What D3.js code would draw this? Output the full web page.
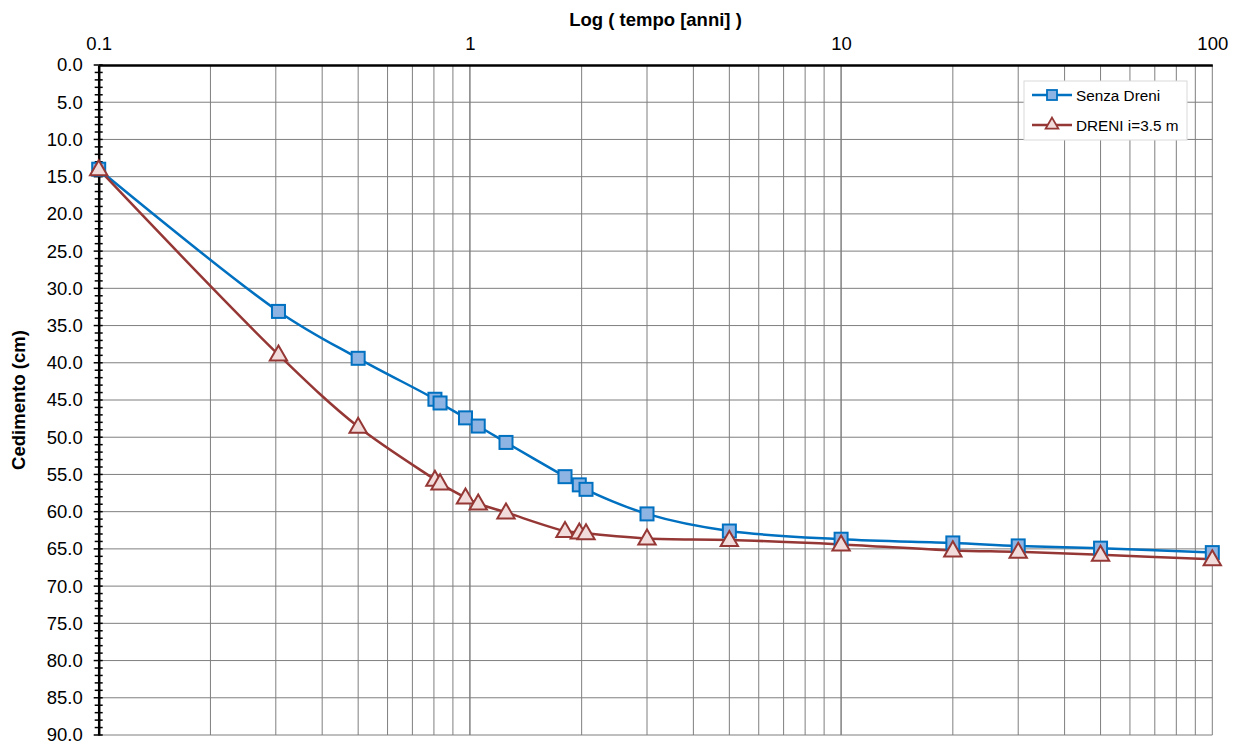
<!DOCTYPE html>
<html><head><meta charset="utf-8">
<script src="https://cdn.jsdelivr.net/npm/d3@7"></script>
<style>body{margin:0;background:#fff;} text{font-family:"Liberation Sans",Arial,sans-serif;}</style>
</head><body>
<svg id="chart" width="1238" height="745"></svg>
<script>
const tempo = [0.1, 0.305, 0.5, 0.805, 0.831, 0.973, 1.053, 1.251, 1.804, 1.971, 2.055, 3, 5, 10, 20, 30, 50, 100];
const senzaDreni = [14.0, 33.1, 39.4, 44.9, 45.4, 47.4, 48.5, 50.7, 55.3, 56.4, 57.0, 60.3, 62.6, 63.7, 64.2, 64.6, 64.9, 65.5];
const dreni = [14.0, 38.9, 48.6, 55.7, 56.2, 58.1, 58.9, 60.1, 62.6, 62.8, 62.9, 63.6, 63.8, 64.4, 65.2, 65.4, 65.8, 66.4];
const xTickLabels = [0.1, 1, 10, 100];
const yTickValues = d3.range(0, 90.001, 5);
const seriesNames = ["Senza Dreni", "DRENI i=3.5 m"];

const svg = d3.select("#chart");
const L = 98.7, R = 1212.3, T = 65, B = 735;
const x = d3.scaleLog().domain([0.1, 100]).range([L, R]);
const y = d3.scaleLinear().domain([0, 90]).range([T, B]);

// vertical grid (log minor)
const vGrid = [];
[0.1, 1, 10].forEach(d => { for (let k = 1; k <= 10; k++) vGrid.push(d * k); });
svg.append("g").selectAll("line").data(vGrid.filter(v => v > 0.1 * 1.0001)).join("line")
  .attr("x1", d => x(d)).attr("x2", d => x(d)).attr("y1", T).attr("y2", B)
  .attr("stroke", "#7f7f7f").attr("stroke-width", 1);
// horizontal grid
svg.append("g").selectAll("line").data(yTickValues.filter(v => v > 0)).join("line")
  .attr("x1", L).attr("x2", R).attr("y1", d => y(d)).attr("y2", d => y(d))
  .attr("stroke", "#7f7f7f").attr("stroke-width", 1);

// top axis
const xAxis = d3.axisTop(x).tickValues(xTickLabels).tickFormat(d => String(d)).tickSize(0).tickPadding(15);
const gx = svg.append("g").attr("transform", `translate(0,${T})`).call(xAxis);
gx.select(".domain").attr("stroke", "#000").attr("stroke-width", 2.5);
gx.selectAll("text").attr("font-size", "18.5px").attr("fill", "#000");

// left axis
const yAxis = d3.axisLeft(y).tickValues(yTickValues).tickFormat(d3.format(".1f")).tickSize(0).tickPadding(16);
const gy = svg.append("g").attr("transform", `translate(${L},0)`).call(yAxis);
gy.select(".domain").attr("stroke", "#000").attr("stroke-width", 2.5);
gy.selectAll("text").attr("font-size", "18.5px").attr("fill", "#000");
// crossing ticks
const minor = d3.range(0, 90.001, 1);
svg.append("g").selectAll("line").data(minor).join("line")
  .attr("x1", d => d % 5 === 0 ? L - 5 : L - 4).attr("x2", L + 4)
  .attr("y1", d => y(d)).attr("y2", d => y(d))
  .attr("stroke", "#000").attr("stroke-width", 1.5);

// titles
svg.append("text").attr("x", (L + R) / 2).attr("y", 26).attr("text-anchor", "middle")
  .attr("font-size", "18.5px").attr("font-weight", "bold").text("Log ( tempo [anni] )");
svg.append("text").attr("transform", `translate(25,${(T + B) / 2}) rotate(-90)`).attr("text-anchor", "middle")
  .attr("font-size", "18.5px").attr("font-weight", "bold").text("Cedimento (cm)");

const line = d3.line().curve(d3.curveCatmullRom.alpha(0.5)).x(d => x(d[0])).y(d => y(d[1]));
const s1 = tempo.map((t, i) => [t, senzaDreni[i]]);
const s2 = tempo.map((t, i) => [t, dreni[i]]);

const blue = "#0070C0", blueFill = "#8EB4E3", red = "#953735", redFill = "#F2DCDB";
const tri = d3.symbol().type(d3.symbolTriangle).size(130);

svg.append("path").datum(s1).attr("d", line).attr("fill", "none").attr("stroke", blue).attr("stroke-width", 2.5);
svg.append("path").datum(s2).attr("d", line).attr("fill", "none").attr("stroke", red).attr("stroke-width", 2.5);

svg.append("g").selectAll("rect").data(s1).join("rect")
  .attr("x", d => x(d[0]) - 6.5).attr("y", d => y(d[1]) - 6.5).attr("width", 13).attr("height", 13)
  .attr("fill", blueFill).attr("stroke", blue).attr("stroke-width", 2);
svg.append("g").selectAll("path").data(s2).join("path")
  .attr("d", tri).attr("transform", d => `translate(${x(d[0])},${y(d[1]) + 1})`)
  .attr("fill", redFill).attr("stroke", red).attr("stroke-width", 2);

// legend
const lg = svg.append("g");
lg.append("rect").attr("x", 1024).attr("y", 81).attr("width", 163).attr("height", 59)
  .attr("fill", "#fff").attr("stroke", "#d9d9d9").attr("stroke-width", 1);
const items = [
  {name: seriesNames[0], c: blue, f: blueFill, sq: true, yy: 95},
  {name: seriesNames[1], c: red, f: redFill, sq: false, yy: 125}
];
items.forEach(it => {
  lg.append("line").attr("x1", 1032).attr("x2", 1072).attr("y1", it.yy).attr("y2", it.yy)
    .attr("stroke", it.c).attr("stroke-width", 2.5);
  if (it.sq) lg.append("rect").attr("x", 1052 - 5).attr("y", it.yy - 5).attr("width", 10).attr("height", 10)
    .attr("fill", it.f).attr("stroke", it.c).attr("stroke-width", 1.8);
  else lg.append("path").attr("d", d3.symbol().type(d3.symbolTriangle).size(70)).attr("transform", `translate(1052,${it.yy})`)
    .attr("fill", it.f).attr("stroke", it.c).attr("stroke-width", 1.8);
  lg.append("text").attr("x", 1076).attr("y", it.yy + 5.5).attr("font-size", "15.3px").text(it.name);
});
</script>
</body></html>
